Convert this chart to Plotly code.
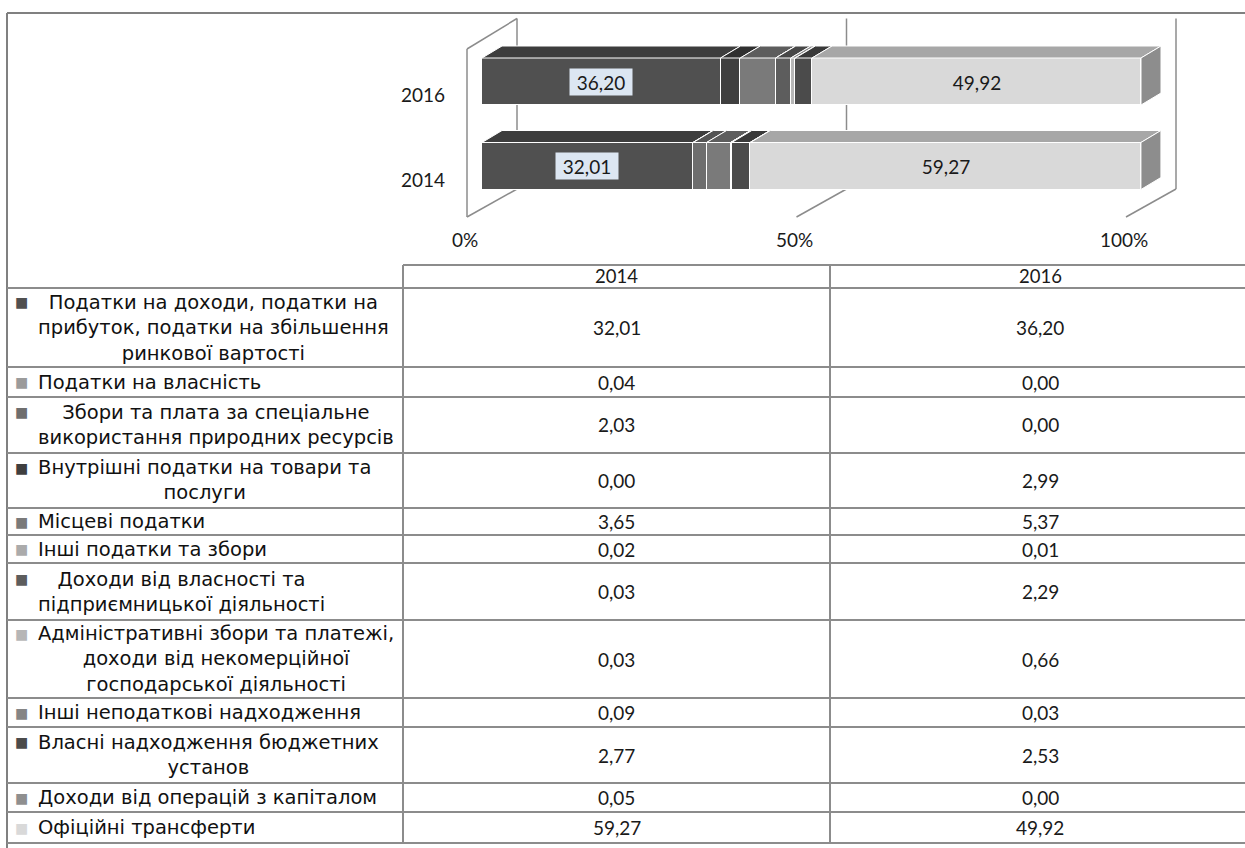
import plotly.graph_objects as go

# ---------------- data ----------------
years = ["2014", "2016"]
categories = [
    "Податки на доходи, податки на<br>прибуток, податки на збільшення<br>ринкової вартості",
    "Податки на власність",
    "Збори та плата за спеціальне<br>використання природних ресурсів",
    "Внутрішні податки на товари та<br>послуги",
    "Місцеві податки",
    "Інші податки та збори",
    "Доходи від власності та<br>підприємницької діяльності",
    "Адміністративні збори та платежі,<br>доходи від некомерційної<br>господарської діяльності",
    "Інші неподаткові надходження",
    "Власні надходження бюджетних<br>установ",
    "Доходи від операцій з капіталом",
    "Офіційні трансферти",
]
values_2014 = [32.01, 0.04, 2.03, 0.00, 3.65, 0.02, 0.03, 0.03, 0.09, 2.77, 0.05, 59.27]
values_2016 = [36.20, 0.00, 0.00, 2.99, 5.37, 0.01, 2.29, 0.66, 0.03, 2.53, 0.00, 49.92]
x_ticks = [0, 50, 100]
x_tick_labels = ["0%", "50%", "100%"]
labelled_series = [0, 11]

# ---------------- styles ----------------
colors = ["#505050", "#9b9b9b", "#6e6e6e", "#3f3f3f", "#7a7a7a", "#ababab",
          "#5d5d5d", "#b6b6b6", "#858585", "#4b4b4b", "#8f8f8f", "#d9d9d9"]
LABEL_FONT = "DejaVu Sans"
LABEL_SIZE = 19.5
NUM_FONT = "Lato"
GRID = "#8c8c8c"
W, H = 1245, 848


def px(x):
    return x / W


def py(y):
    return 1 - y / H


def shade(hexcol, f):
    r, g, b = (int(hexcol[i:i + 2], 16) for i in (1, 3, 5))
    return "#%02x%02x%02x" % (int(r * f), int(g * f), int(b * f))


def fmt(v):
    return f"{v:.2f}".replace(".", ",")


# ---------------- chart geometry ----------------
XPX0, XPX100 = 482, 1141          # bar front face 0% / 100%
SX = (XPX100 - XPX0) / 100.0
YC0, YSTEP = 166, 84.5            # pixel centre of first bar, spacing
BAR_W = 47 / YSTEP
DDX = 20 / SX                     # bar depth in data units
DDY = 12 / YSTEP
FRONT_OFF, BACK_OFF = -15, 35     # px offsets of wall planes vs bar face
WALL_TOP, FLOOR_BACK, FLOOR_FRONT = 18.5, 189, 217

xdom_px = (440, 1210)
ydom_px = (10, 236)
xrange_ = [(xdom_px[0] - XPX0) / SX, (xdom_px[1] - XPX0) / SX]
yrange_ = [(YC0 - ydom_px[1]) / YSTEP, (YC0 - ydom_px[0]) / YSTEP]

series = [values_2014, values_2016]
ypos = list(range(len(years)))

fig = go.Figure()
for i, cat in enumerate(categories):
    fig.add_trace(go.Bar(
        y=ypos, x=[s[i] for s in series], orientation="h",
        width=BAR_W, marker=dict(color=colors[i], line=dict(color="white", width=1.5)),
        showlegend=False, hoverinfo="skip"))

shapes = []
gl = dict(color=GRID, width=1.5)


def xp(v, off):
    return px(XPX0 + v * SX + off)


# walls / gridlines (behind bars)
for t in x_ticks:
    shapes.append(dict(type="line", xref="paper", yref="paper", layer="below",
                       x0=xp(t, BACK_OFF), x1=xp(t, BACK_OFF), y0=py(WALL_TOP), y1=py(FLOOR_BACK), line=gl))
    shapes.append(dict(type="line", xref="paper", yref="paper", layer="below",
                       x0=xp(t, BACK_OFF), x1=xp(t, FRONT_OFF), y0=py(FLOOR_BACK), y1=py(FLOOR_FRONT), line=gl))
shapes.append(dict(type="line", xref="paper", yref="paper", layer="below",
                   x0=xp(0, FRONT_OFF), x1=xp(0, FRONT_OFF), y0=py(FLOOR_FRONT), y1=py(49), line=gl))
shapes.append(dict(type="line", xref="paper", yref="paper", layer="below",
                   x0=xp(0, FRONT_OFF), x1=xp(0, BACK_OFF), y0=py(49), y1=py(WALL_TOP), line=gl))

# 3D top and side faces
for j, s in enumerate(series):
    yt = ypos[j] + BAR_W / 2
    yb = ypos[j] - BAR_W / 2
    cum = 0.0
    for i, v in enumerate(s):
        if v > 0:
            x0, x1 = cum, cum + v
            shapes.append(dict(type="path", xref="x", yref="y", layer="above",
                               path=f"M {x0},{yt} L {x1},{yt} L {x1 + DDX},{yt + DDY} L {x0 + DDX},{yt + DDY} Z",
                               fillcolor=shade(colors[i], 0.77), line=dict(color="white", width=1)))
        cum += v
    last = len(s) - 1
    shapes.append(dict(type="path", xref="x", yref="y", layer="above",
                       path=f"M {cum},{yb} L {cum},{yt} L {cum + DDX},{yt + DDY} L {cum + DDX},{yb + DDY} Z",
                       fillcolor=shade(colors[last], 0.65), line=dict(color="white", width=1)))

annotations = []


def ann(**kw):
    d = dict(showarrow=False, xanchor="center", yanchor="middle")
    d.update(kw)
    annotations.append(d)


# data labels
for j, s in enumerate(series):
    cum = 0.0
    for i, v in enumerate(s):
        if i in labelled_series:
            ann(xref="x", yref="y", x=cum + v / 2, y=ypos[j], text=fmt(v),
                font=dict(family=NUM_FONT, size=19, color="#1a1a1a"),
                bgcolor="#dce6f2" if i == 0 else "rgba(0,0,0,0)", borderpad=0,
                width=62, height=26)
        cum += v
# category (year) labels
for j, yr in enumerate(years):
    ann(xref="paper", yref="y", x=px(447), y=ypos[j], yshift=-13, xanchor="right",
        text=yr, font=dict(family=NUM_FONT, size=19, color="#1a1a1a"))
# value axis labels
for t, lab in zip(x_ticks, x_tick_labels):
    ann(xref="x", yref="paper", x=t, xshift=-17, y=py(240), text=lab,
        font=dict(family=NUM_FONT, size=19, color="#1a1a1a"))

# ---------------- data table ----------------
row_edges = [288, 367, 397, 453, 508, 535, 563, 620, 698, 727, 783, 812, 843]
HEAD_TOP = 265
COL_L, COL_M, COL_R = 403, 830, 1250
tl = dict(color=GRID, width=2)
shapes.append(dict(type="line", xref="paper", yref="paper", x0=px(7), x1=1, y0=py(13), y1=py(13),
                   line=dict(color="#808080", width=2)))
shapes.append(dict(type="line", xref="paper", yref="paper", x0=px(7), x1=px(7), y0=py(13), y1=0,
                   line=dict(color="#808080", width=2)))
shapes.append(dict(type="line", xref="paper", yref="paper", x0=px(COL_L), x1=1, y0=py(HEAD_TOP), y1=py(HEAD_TOP), line=tl))
for e in row_edges:
    shapes.append(dict(type="line", xref="paper", yref="paper", x0=px(7), x1=1, y0=py(e), y1=py(e), line=tl))
for cx in (COL_L, COL_M):
    shapes.append(dict(type="line", xref="paper", yref="paper", x0=px(cx), x1=px(cx),
                       y0=py(HEAD_TOP), y1=py(row_edges[-1]), line=tl))

col_centers = [(COL_L + COL_M) / 2, (COL_M + COL_R) / 2]
for k, yr in enumerate(years):
    ann(xref="paper", yref="paper", x=px(col_centers[k]), y=py((HEAD_TOP + row_edges[0]) / 2),
        text=yr, font=dict(family=NUM_FONT, size=18.5, color="#1a1a1a"))

LINE_H = LABEL_SIZE * 1.3
for i, cat in enumerate(categories):
    top, bot = row_edges[i], row_edges[i + 1]
    yc = (top + bot) / 2
    nlines = cat.count("<br>") + 1
    ann(xref="paper", yref="paper", x=px(36), y=py(yc), xanchor="left", align="center",
        text=cat, font=dict(family=LABEL_FONT, size=LABEL_SIZE, color="#111"))
    first_y = yc - (nlines - 1) / 2 * LINE_H
    ann(xref="paper", yref="paper", x=px(21), y=py(first_y), text="■",
        font=dict(family=LABEL_FONT, size=14, color=colors[i]))
    for k, s in enumerate(series):
        ann(xref="paper", yref="paper", x=px(col_centers[k]), y=py(yc), text=fmt(s[i]),
            font=dict(family=NUM_FONT, size=19, color="#1a1a1a"))

fig.update_layout(
    width=W, height=H, autosize=False, margin=dict(l=0, r=0, t=0, b=0),
    paper_bgcolor="white", plot_bgcolor="rgba(0,0,0,0)",
    barmode="stack", bargap=0,
    xaxis=dict(domain=[px(xdom_px[0]), px(xdom_px[1])], range=xrange_, visible=False, fixedrange=True),
    yaxis=dict(domain=[py(ydom_px[1]), py(ydom_px[0])], range=yrange_, visible=False, fixedrange=True),
    shapes=shapes, annotations=annotations,
)

fig.write_html("out.html", config={"displayModeBar": False},
               post_script="document.body.style.margin='0';document.body.style.overflow='hidden';")
